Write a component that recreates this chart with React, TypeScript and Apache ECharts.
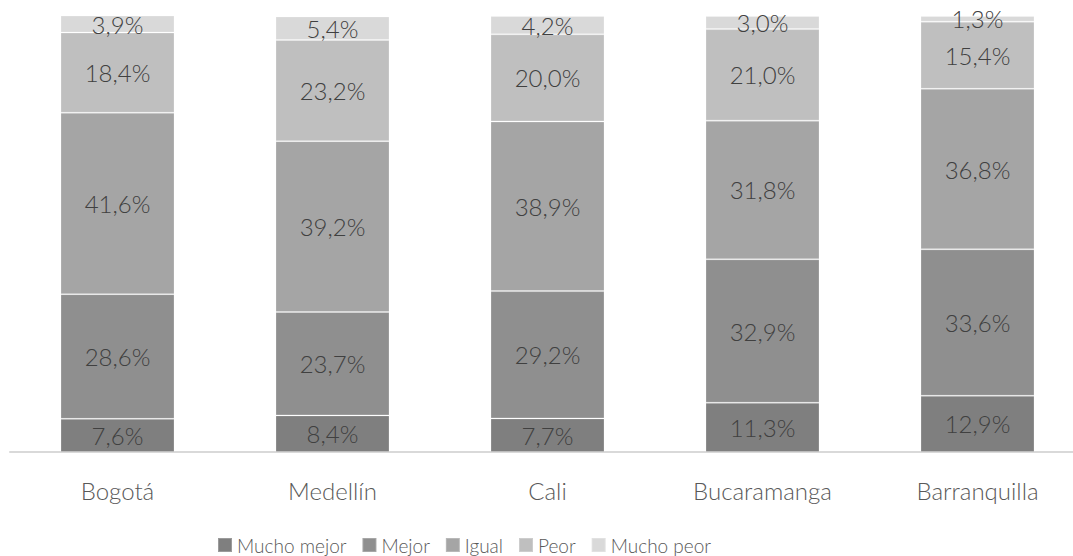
import React, { useEffect, useRef } from "react";
import * as echarts from "echarts";

const categories = ["Bogotá", "Medellín", "Cali", "Bucaramanga", "Barranquilla"];
const seriesNames = ["Mucho mejor", "Mejor", "Igual", "Peor", "Mucho peor"];
const muchoMejor = [7.6, 8.4, 7.7, 11.3, 12.9];
const mejor = [28.6, 23.7, 29.2, 32.9, 33.6];
const igual = [41.6, 39.2, 38.9, 31.8, 36.8];
const peor = [18.4, 23.2, 20.0, 21.0, 15.4];
const muchoPeor = [3.9, 5.4, 4.2, 3.0, 1.3];
const colors = ["#7f7f7f", "#8f8f8f", "#a5a5a5", "#bfbfbf", "#d9d9d9"];

const FONT = "Lato, 'Open Sans', sans-serif";

export default function App() {
  const ref = useRef<HTMLDivElement>(null);
  useEffect(() => {
    if (!ref.current) return;
    const chart = echarts.init(ref.current, null, { renderer: "svg" });
    const values = [muchoMejor, mejor, igual, peor, muchoPeor];
    chart.setOption({
      animation: false,
      backgroundColor: "#ffffff",
      color: colors,
      grid: {
        left: 10,
        width: 1075,
        top: 16,
        bottom: 104,
        containLabel: false,
        outerBoundsMode: "none",
      },
      legend: {
        top: 535,
        left: 217,
        padding: 0,
        itemWidth: 14,
        itemHeight: 14,
        itemGap: 15,
        icon: "rect",
        textStyle: { fontFamily: FONT, fontSize: 19, fontWeight: 300, color: "#595959", lineHeight: 20 },
        data: seriesNames,
      },
      xAxis: {
        type: "category",
        data: categories,
        axisLine: { show: true, lineStyle: { color: "#d9d9d9", width: 2 } },
        axisTick: { show: false },
        axisLabel: { margin: 26, fontFamily: FONT, fontSize: 24, fontWeight: 300, color: "#595959" },
      },
      yAxis: {
        type: "value",
        min: 0,
        max: 100,
        show: false,
        splitLine: { show: false },
      },
      series: seriesNames.map((name, i) => ({
        name,
        type: "bar",
        stack: "total",
        barWidth: 114,
        data: values[i],
        itemStyle: { color: colors[i], borderColor: "rgba(255,255,255,0.22)", borderWidth: 1 },
        label: {
          show: true,
          position: "inside",
          fontFamily: FONT,
          fontSize: 24,
          fontWeight: 300,
          color: "#404040",
          formatter: (p: any) => p.value.toFixed(1).replace(".", ",") + "%",
        },
      })),
    });
    return () => chart.dispose();
  }, []);
  return (
    <div
      ref={ref}
      style={{ position: "fixed", left: 0, top: 0, width: 1073, height: 556 }}
    />
  );
}
